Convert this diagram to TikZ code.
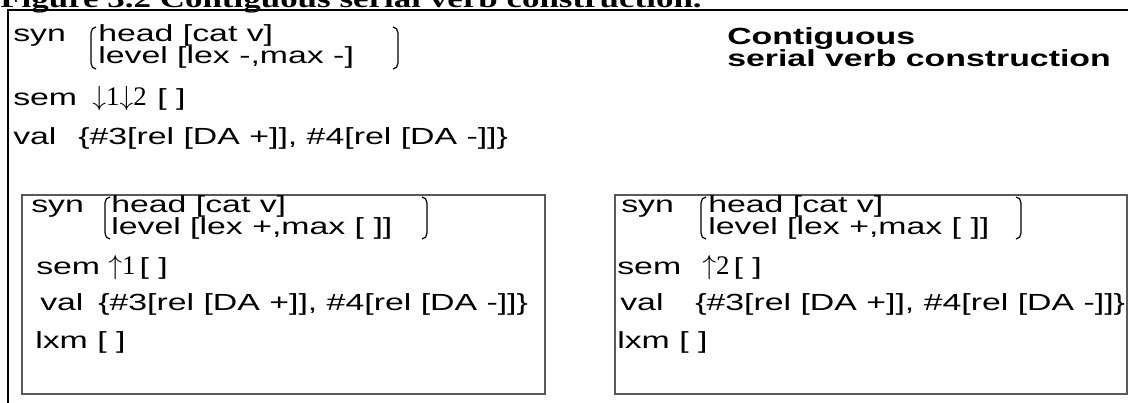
\documentclass[tikz,border=0pt]{standalone}
\usepackage{fontspec}
\setmainfont{Liberation Sans}[FakeStretch=1.45]
\newfontfamily\numfont{Liberation Serif}[Scale=1.15]
\newfontfamily\capfont{Liberation Serif}[FakeStretch=1.38]

\newcommand{\rowfont}{\fontsize{17.5pt}{16pt}\selectfont}
\newcommand{\dn}{{\fontsize{21pt}{21pt}\selectfont$\mathord{\downarrow}$}}
\newcommand{\upw}{{\fontsize{21pt}{21pt}\selectfont$\mathord{\uparrow}$}}

% round-ended brackets round the syn value: x, top, bottom
\newcommand{\openbrak}[3]{\draw[brak] (#1+5,#2) to[out=180,in=90] (#1,#2+6) -- (#1,#3-6) to[out=-90,in=180] (#1+5,#3);}
\newcommand{\closebrak}[3]{\draw[brak] (#1-5,#2) to[out=0,in=90] (#1,#2+6) -- (#1,#3-6) to[out=-90,in=0] (#1-5,#3);}

\begin{document}
\begin{tikzpicture}[
    x=0.75pt, y=-0.75pt,
    feat/.style={anchor=base west, inner sep=0pt, font=\rowfont},
    avmbox/.style={draw=black!65, line width=1.5pt},
    frame/.style={draw=black, line width=1.1pt},
    brak/.style={draw=black, line width=0.9pt}
]
\useasboundingbox (0,0) rectangle (1128,403);

\node[anchor=base west, inner sep=0pt, font=\capfont\bfseries\fontsize{19pt}{19pt}\selectfont] (caption) at (0,8) {Figure 3.2 Contiguous serial verb construction.};
\draw[frame] (1128,10) -- (8,10) -- (8,403);

% mother
\node[feat] (syn0) at (13,42) {syn};
\node[feat] (head0) at (98,42) {head [cat v]};
\node[feat] (lev0) at (98,64) {level [lex -,max -]};
\openbrak{91}{27}{69}
\closebrak{398}{27}{69}
\node[feat] (sem0) at (13,106) {sem};
\node[feat] (semv0) at (92,106) {{\numfont\dn 1\dn 2}\hspace{8pt}[ ]};
\node[feat] (val0) at (13,144) {val};
\node[feat] (valv0) at (78,144) {\{\#3[rel [DA +]], \#4[rel [DA -]]\}};

\node[feat, font=\rowfont\bfseries] (title1) at (727,45) {Contiguous};
\node[feat, font=\rowfont\bfseries] (title2) at (727,67) {serial verb construction};

% first daughter
\draw[avmbox] (22,195) rectangle (545,394);
\node[feat] (syn1) at (31,212) {syn};
\node[feat] (head1) at (111,212) {head [cat v]};
\node[feat] (lev1) at (111,234) {level [lex +,max [ ]]};
\openbrak{105}{197}{239}
\closebrak{427}{197}{239}
\node[feat] (sem1) at (36,274) {sem};
\node[feat] (semv1) at (108,274) {{\numfont\upw 1}\hspace{3pt}[ ]};
\node[feat] (val1) at (40,310) {val};
\node[feat] (valv1) at (98,310) {\{\#3[rel [DA +]], \#4[rel [DA -]]\}};
\node[feat] (lxm1) at (35,348) {lxm [ ]};

% second daughter
\draw[avmbox] (615,195) rectangle (1127,394);
\node[feat] (syn2) at (621,212) {syn};
\node[feat] (head2) at (708,212) {head [cat v]};
\node[feat] (lev2) at (708,234) {level [lex +,max [ ]]};
\openbrak{701}{197}{239}
\closebrak{1021}{197}{239}
\node[feat] (sem2) at (617,274) {sem};
\node[feat] (semv2) at (702,274) {{\numfont\upw 2}\hspace{3pt}[ ]};
\node[feat] (val2) at (620,310) {val};
\node[feat] (valv2) at (695,310) {\{\#3[rel [DA +]], \#4[rel [DA -]]\}};
\node[feat] (lxm2) at (617,348) {lxm [ ]};
\end{tikzpicture}
\end{document}
